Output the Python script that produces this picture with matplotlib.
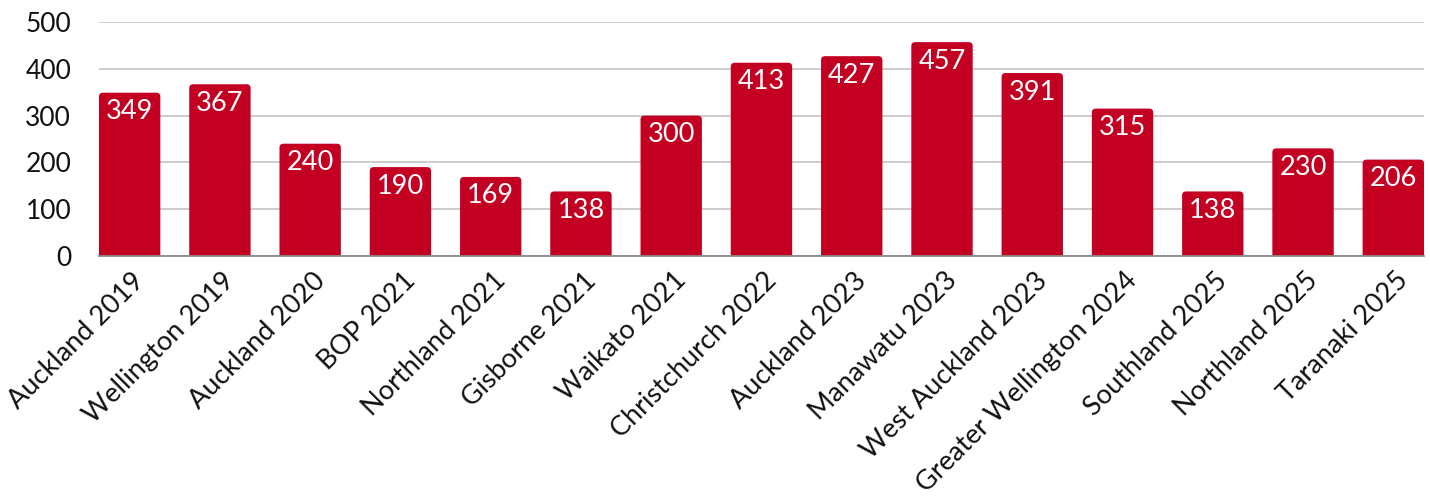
import matplotlib.pyplot as plt
from matplotlib.patches import FancyBboxPatch
from matplotlib.transforms import ScaledTranslation

# data
regions = ["Auckland 2019", "Wellington 2019", "Auckland 2020", "BOP 2021",
           "Northland 2021", "Gisborne 2021", "Waikato 2021", "Christchurch 2022",
           "Auckland 2023", "Manawatu 2023", "West Auckland 2023",
           "Greater Wellington 2024", "Southland 2025", "Northland 2025",
           "Taranaki 2025"]
counts = [349, 367, 240, 190, 169, 138, 300, 413, 427, 457, 391, 315, 138, 230, 206]
yticks = [0, 100, 200, 300, 400, 500]

red = "#C40022"
plt.rcParams["font.family"] = ["Lato", "DejaVu Sans"]

fig = plt.figure(figsize=(14.3, 4.98), dpi=100)
ax = fig.add_axes([0.0692, 0.4859, 0.9266, 0.4699])

width = 0.68
x = list(range(len(regions)))
ax.set_xlim(-width / 2, len(regions) - 1 + width / 2)
ax.set_ylim(0, 500)

# pixels per data unit, so the top corners come out round
fig.canvas.draw()
px_x = ax.transData.transform((1, 0))[0] - ax.transData.transform((0, 0))[0]
px_y = ax.transData.transform((0, 1))[1] - ax.transData.transform((0, 0))[1]
r = 4 / px_x
aspect = px_x / px_y

for xi, v in zip(x, counts):
    # start below zero so only the top corners show rounding
    ax.add_patch(FancyBboxPatch((xi - width / 2, -20), width, v + 20,
                                boxstyle=f"round,pad=0,rounding_size={r}",
                                mutation_aspect=aspect, facecolor=red,
                                edgecolor="none", zorder=3))
    ax.annotate(str(v), (xi, v), xytext=(0, -19), textcoords="offset pixels",
                ha="center", va="center", color="white", fontsize=19.5)

ax.set_yticks(yticks)
ax.tick_params(axis="y", length=0, pad=20, labelsize=19, labelcolor="#111111")
ax.tick_params(axis="x", length=0, pad=12)
ax.set_xticks(x)
ax.set_xticklabels(regions, rotation=45, ha="right", va="center",
                   rotation_mode="anchor", fontsize=19.5, color="#111111")
shift = ScaledTranslation(11 / 100, -4 / 100, fig.dpi_scale_trans)
for lbl in ax.get_xticklabels():
    lbl.set_transform(lbl.get_transform() + shift)

ax.grid(axis="y", color="#C8C8C8", linewidth=1.3, zorder=0)
for s in ["top", "right", "left"]:
    ax.spines[s].set_visible(False)
ax.spines["bottom"].set_color("#8A8A8A")
ax.spines["bottom"].set_linewidth(1.3)
ax.spines["bottom"].set_zorder(4)

fig.savefig("out.png", dpi=100)
